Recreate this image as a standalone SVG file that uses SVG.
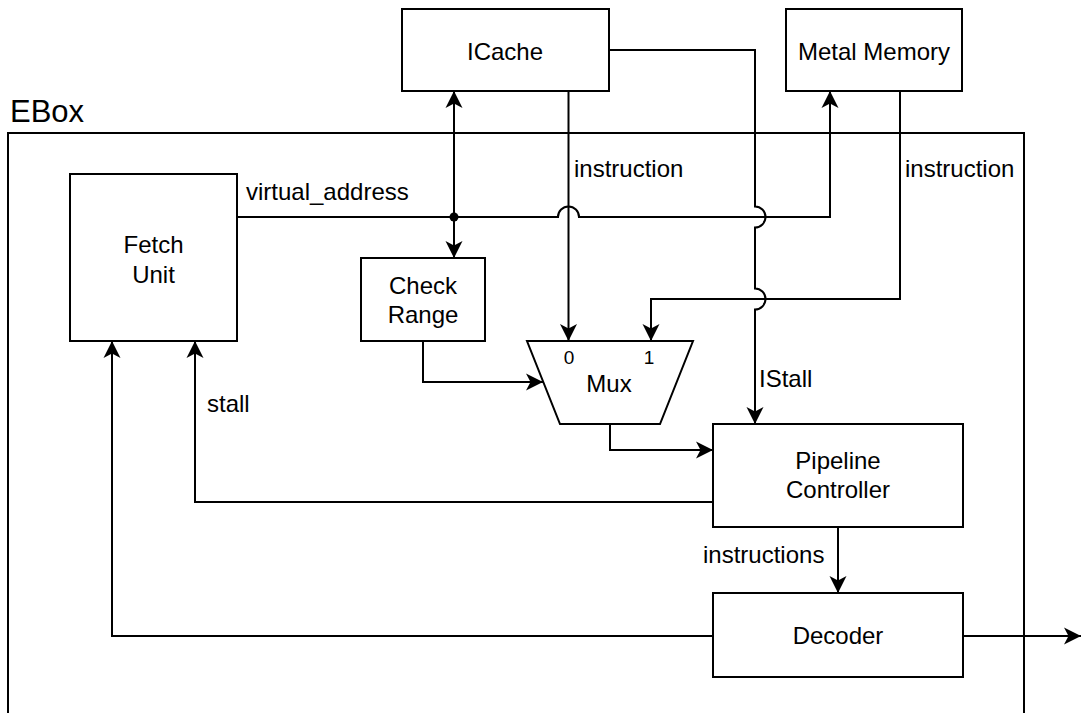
<svg xmlns="http://www.w3.org/2000/svg" width="1081" height="713" viewBox="0 0 1081 713">
<style>
.box{fill:#fff;stroke:#000;stroke-width:2}
.frame{fill:none;stroke:#000;stroke-width:2}
.edge{fill:none;stroke:#000;stroke-width:2;marker-end:url(#arr)}
.line{fill:none;stroke:#000;stroke-width:2}
text{font-family:"Liberation Sans",Arial,Helvetica,sans-serif;font-size:24px;fill:#000}
.c{text-anchor:middle}
.s{font-size:19px}
.big{font-size:31px}
</style>
<defs>
<marker id="arr" markerUnits="userSpaceOnUse" viewBox="-18 -9 19 18" markerWidth="19" markerHeight="18" refX="0" refY="0" orient="auto">
<path d="M0,0 L-17,-8.5 L-12.5,0 L-17,8.5 Z" fill="#000"/>
</marker>
</defs>
<rect width="1081" height="713" fill="#fff"/>
<g id="ebox">
<rect class="frame" x="8" y="133" width="1016" height="600"/>
<text class="big" x="10" y="122">EBox</text>
</g>
<g id="connectors">
<path class="line" d="M237,217 H558 A10.5,10.5 0 0 1 579,217 H830 V100"/>
<path class="edge" d="M830,120 V91"/>
<path class="edge" d="M454,217 V91"/>
<path class="edge" d="M454,217 V258"/>
<circle cx="454" cy="217" r="4.5" fill="#000"/>
<path class="edge" d="M568.5,91 V341"/>
<path class="edge" d="M609,50 H755 V206.5 A10.5,10.5 0 0 1 755,227.5 V288.5 A10.5,10.5 0 0 1 755,309.5 V424"/>
<path class="edge" d="M900,91 V299 H651 V341"/>
<path class="edge" d="M423,341 V382 H543"/>
<path class="edge" d="M610,424 V450 H713"/>
<path class="edge" d="M713,502 H195 V341"/>
<path class="edge" d="M713,636 H112 V341"/>
<path class="edge" d="M838,527 V593"/>
<path class="edge" d="M963,636 H1081"/>
<text x="246" y="200">virtual_address</text>
<text x="574" y="177">instruction</text>
<text x="905" y="177">instruction</text>
<text x="207" y="412">stall</text>
<text x="759" y="387">IStall</text>
<text x="703" y="563">instructions</text>
</g>
<g id="icache">
<rect class="box" x="402" y="9" width="207" height="82"/>
<text class="c" x="505" y="60">ICache</text>
</g>
<g id="metal-memory">
<rect class="box" x="786" y="9" width="176" height="82"/>
<text class="c" x="874" y="60">Metal Memory</text>
</g>
<g id="fetch-unit">
<rect class="box" x="70" y="174" width="167" height="167"/>
<text class="c" x="153.5" y="253">Fetch</text>
<text class="c" x="153.5" y="283">Unit</text>
</g>
<g id="check-range">
<rect class="box" x="361" y="258" width="124" height="83"/>
<text class="c" x="423" y="294">Check</text>
<text class="c" x="423" y="323">Range</text>
</g>
<g id="mux">
<polygon class="box" points="527,341 693,341 660,424 560,424"/>
<text class="c s" x="569" y="364">0</text>
<text class="c s" x="649" y="364">1</text>
<text class="c" x="609" y="392">Mux</text>
</g>
<g id="pipeline-controller">
<rect class="box" x="713" y="424" width="250" height="103"/>
<text class="c" x="838" y="469">Pipeline</text>
<text class="c" x="838" y="498">Controller</text>
</g>
<g id="decoder">
<rect class="box" x="713" y="593" width="250" height="84"/>
<text class="c" x="838" y="644">Decoder</text>
</g>
</svg>
